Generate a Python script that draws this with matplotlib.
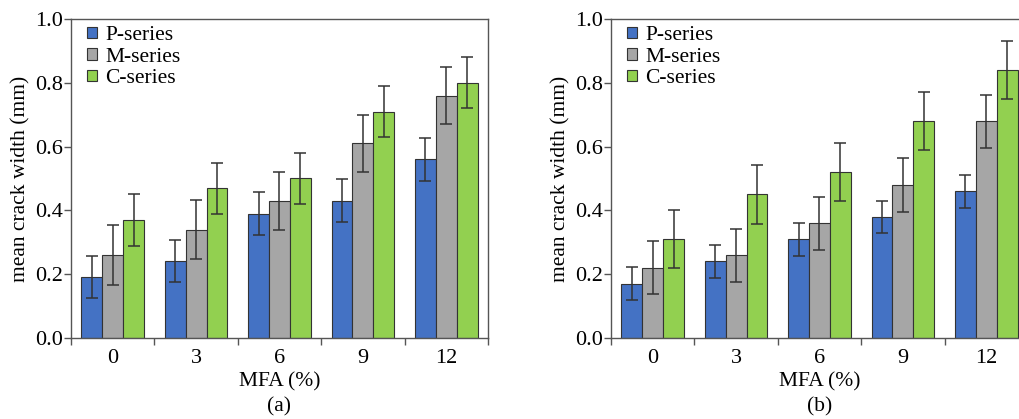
import matplotlib.pyplot as plt
import numpy as np
from matplotlib.patches import Patch

mfa = ['0', '3', '6', '9', '12']
series = ['P-series', 'M-series', 'C-series']
colors = ['#4472C4', '#A6A6A6', '#92D050']

# panel (a)
a_p = [0.19, 0.24, 0.39, 0.43, 0.56]
a_m = [0.26, 0.34, 0.43, 0.61, 0.76]
a_c = [0.37, 0.47, 0.50, 0.71, 0.80]
a_p_err = [0.066, 0.066, 0.067, 0.067, 0.068]
a_m_err = [0.093, 0.093, 0.090, 0.090, 0.090]
a_c_err = [0.082, 0.080, 0.080, 0.080, 0.080]

# panel (b)
b_p = [0.17, 0.24, 0.31, 0.38, 0.46]
b_m = [0.22, 0.26, 0.36, 0.48, 0.68]
b_c = [0.31, 0.45, 0.52, 0.68, 0.84]
b_p_err = [0.052, 0.052, 0.052, 0.051, 0.052]
b_m_err = [0.083, 0.083, 0.083, 0.084, 0.083]
b_c_err = [0.092, 0.092, 0.092, 0.092, 0.092]

plt.rcParams['font.family'] = ['Liberation Serif', 'DejaVu Serif']

fig = plt.figure(figsize=(10.2, 4.19), dpi=100)
ax_a = fig.add_axes([71 / 1020, 1 - 338 / 419, 417 / 1020, 319 / 419])
ax_b = fig.add_axes([611 / 1020, 1 - 338 / 419, 417 / 1020, 319 / 419])


def draw(ax, vals, errs, tag):
    x = np.arange(len(mfa))
    w = 0.25
    for i, (v, e) in enumerate(zip(vals, errs)):
        ax.bar(x + (i - 1) * w, v, w, yerr=e, color=colors[i],
               edgecolor='#333333', linewidth=0.8, capsize=4.5,
               error_kw=dict(ecolor='#333333', elinewidth=1.1, capthick=1.1),
               zorder=2)
    ax.set_xlim(-0.5, 4.5)
    ax.set_ylim(0, 1.0)
    ax.set_yticks(np.arange(0, 1.01, 0.2))
    ax.set_yticklabels(['%.1f' % t for t in np.arange(0, 1.01, 0.2)])
    ax.set_xticks(np.arange(-0.5, 5, 1))
    ax.set_xticklabels([])
    ax.set_xticks(x, minor=True)
    ax.set_xticklabels(mfa, minor=True)
    ax.tick_params(axis='x', which='minor', length=0, pad=8, labelsize=16)
    ax.tick_params(axis='x', which='major', length=5, width=1, color='#555555')
    ax.tick_params(axis='y', length=5, width=1, color='#555555', labelsize=16, pad=1)
    for s in ax.spines.values():
        s.set_color('#555555')
        s.set_linewidth(1.0)
    ax.set_ylabel('mean crack width (mm)', fontsize=15.5, labelpad=3)
    ax.set_xlabel('MFA (%)', fontsize=15.5, labelpad=3)
    ax.text(0.5, -0.216, tag, transform=ax.transAxes, ha='center', va='center', fontsize=15.5)
    handles = [Patch(facecolor=c, edgecolor='#333333', linewidth=0.8) for c in colors]
    ax.legend(handles, series, loc='upper left', frameon=False, fontsize=15.5,
              handlelength=0.45, handleheight=0.45, handletextpad=0.4,
              labelspacing=0.12, borderaxespad=0, bbox_to_anchor=(0.018, 1.005))


draw(ax_a, [a_p, a_m, a_c], [a_p_err, a_m_err, a_c_err], '(a)')
draw(ax_b, [b_p, b_m, b_c], [b_p_err, b_m_err, b_c_err], '(b)')

fig.savefig('out.png', dpi=100)
